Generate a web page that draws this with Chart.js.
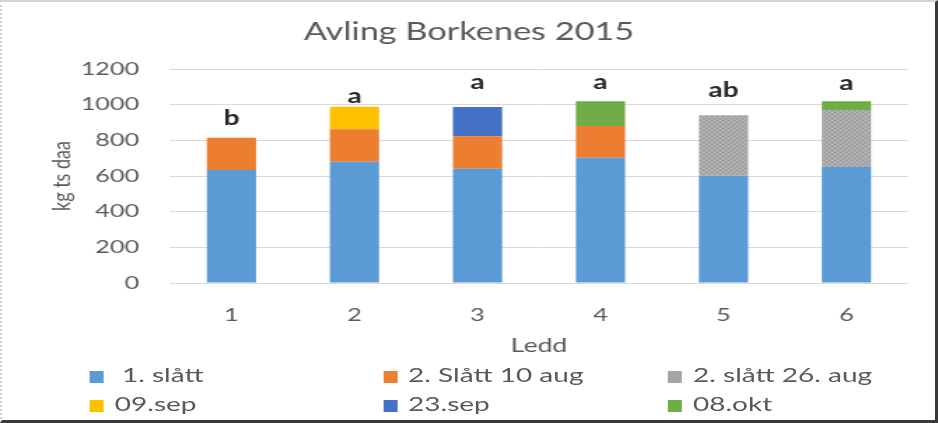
<!DOCTYPE html>
<html>
<head>
<meta charset="utf-8">
<script src="https://cdn.jsdelivr.net/npm/chart.js@4/dist/chart.umd.min.js"></script>
<style>
    html, body { margin: 0; padding: 0; background: #fff; }
    #page { position: relative; width: 938px; height: 423px; overflow: hidden; }
    /* the original picture is stretched sideways, so draw narrow and stretch */
    #wrap { position: absolute; left: 0; top: 0; width: 670px; height: 423px;
        transform: scaleX(1.4); transform-origin: 0 0; }
    #frame {
        position: absolute; left: 0; top: 0; width: 938px; height: 423px; box-sizing: border-box;
        border-top: 2px solid #d4d4d4; border-left: 2px dotted #cfcfcf;
        border-right: 3px solid #3a3a3a; border-bottom: 3px solid #3a3a3a;
        pointer-events: none;
    }
    #legend { position: absolute; left: 0; top: 360px; width: 670px; height: 60px;
        font-family: "Lato", sans-serif; font-size: 20px; color: #595959; }
    .item { position: absolute; height: 24px; line-height: 24px; white-space: pre; }
    .box { display: inline-block; width: 10px; height: 12px; margin-right: 8px; vertical-align: -1px; }
</style>
</head>
<body>
<div id="page">
    <div id="wrap">
        <canvas id="chartAvling"></canvas>
        <div id="legend"></div>
    </div>
    <div id="frame"></div>
</div>
<script>
var ledd = ["1", "2", "3", "4", "5", "6"];
var slatt1 = [634, 680, 641, 703, 602, 651];
var slatt2Aug10 = [181, 182, 182, 178, null, null];
var slatt2Aug26 = [null, null, null, null, 338, 319];
var sep09 = [null, 127, null, null, null, null];
var sep23 = [null, null, 164, null, null, null];
var okt08 = [null, null, null, 138, null, 49];
var letters = ["b", "a", "a", "a", "ab", "a"];
var letterLevel = [920, 1043, 1122, 1122, 1077, 1116];

// grey stipple like the excel fill
var pat = document.createElement("canvas");
pat.width = 4; pat.height = 4;
var pctx = pat.getContext("2d");
pctx.fillStyle = "#a9a9a9"; pctx.fillRect(0, 0, 4, 4);
pctx.fillStyle = "#959595"; pctx.fillRect(0, 0, 1, 1); pctx.fillRect(2, 2, 1, 1);
pctx.fillStyle = "#bdbdbd"; pctx.fillRect(2, 0, 1, 1); pctx.fillRect(0, 2, 1, 1);
var ctx = document.getElementById("chartAvling").getContext("2d");
var greyFill = ctx.createPattern(pat, "repeat");

var letterPlugin = {
    id: "letters",
    afterDatasetsDraw: function (chart) {
        var c = chart.ctx, xs = chart.scales.x, ys = chart.scales.y;
        c.save();
        c.font = "bold 20px 'Lato', sans-serif";
        c.fillStyle = "#262626";
        c.textAlign = "center";
        c.textBaseline = "middle";
        letters.forEach(function (t, i) {
            c.fillText(t, xs.getPixelForValue(i), ys.getPixelForValue(letterLevel[i]));
        });
        c.restore();
    }
};

var series = [
    { label: " 1. slått", data: slatt1, color: "#5b9bd5" },
    { label: "2. Slått 10 aug", data: slatt2Aug10, color: "#ed7d31" },
    { label: "2. slått 26. aug", data: slatt2Aug26, color: greyFill, swatch: "#a5a5a5" },
    { label: "09.sep", data: sep09, color: "#ffc000" },
    { label: "23.sep", data: sep23, color: "#4472c4" },
    { label: "08.okt", data: okt08, color: "#70ad47" },
];

var font = "'Lato', sans-serif";

var chart = new Chart(ctx, {
    type: "bar",
    data: {
        labels: ledd,
        datasets: series.map(function (s) {
            return { label: s.label, data: s.data, backgroundColor: s.color, borderWidth: 0,
                     categoryPercentage: 1.0, barPercentage: 0.4 };
        }),
    },
    options: {
        responsive: true,
        maintainAspectRatio: false,
        animation: false,
        layout: { padding: { left: 0, right: 0, top: 0, bottom: 65 } },
        plugins: {
            legend: { display: false },
            tooltip: { enabled: false },
            title: {
                display: true,
                text: "Avling Borkenes 2015",
                color: "#595959",
                font: { family: font, size: 24.5, weight: "normal" },
                padding: { top: 17, bottom: 22.6 },
            },
        },
        scales: {
            x: {
                stacked: true,
                grid: { display: false },
                border: { display: false },
                ticks: { color: "#595959", padding: 13, font: { family: font, size: 18 } },
                title: { display: true, text: "Ledd", color: "#595959",
                         font: { family: font, size: 19 }, padding: { top: 0, bottom: 1 } },
                afterFit: function (s) { s.height = 75; },
            },
            y: {
                stacked: true,
                min: 0,
                max: 1200,
                grid: { color: "#d9d9d9", drawTicks: false },
                border: { display: false },
                ticks: { stepSize: 200, color: "#595959", padding: 22,
                         font: { family: font, size: 18 },
                         callback: function (v) { return String(v); } },
                title: { display: true, text: "kg ts daa", color: "#595959",
                         font: { family: font, size: 18 }, padding: { top: 33, bottom: 0 } },
                afterFit: function (s) { s.width = 121.4; },
            },
            // empty right axis only to keep the gap at the right of the plot
            gap: {
                position: "right",
                min: 0,
                max: 1200,
                grid: { display: false },
                border: { display: false },
                ticks: { display: false },
                afterFit: function (s) { s.width = 21.4; },
            },
        },
    },
    plugins: [letterPlugin],
});

// legend in three columns like the original
var cols = [64, 273.5, 477];
var rows = [2, 31];
var legendEl = document.getElementById("legend");
series.forEach(function (s, i) {
    var d = document.createElement("div");
    d.className = "item";
    d.style.left = cols[i % 3] + "px";
    d.style.top = rows[Math.floor(i / 3)] + "px";
    var b = document.createElement("span");
    b.className = "box";
    b.style.background = s.swatch || s.color;
    d.appendChild(b);
    d.appendChild(document.createTextNode(s.label));
    legendEl.appendChild(d);
});
</script>
</body>
</html>
